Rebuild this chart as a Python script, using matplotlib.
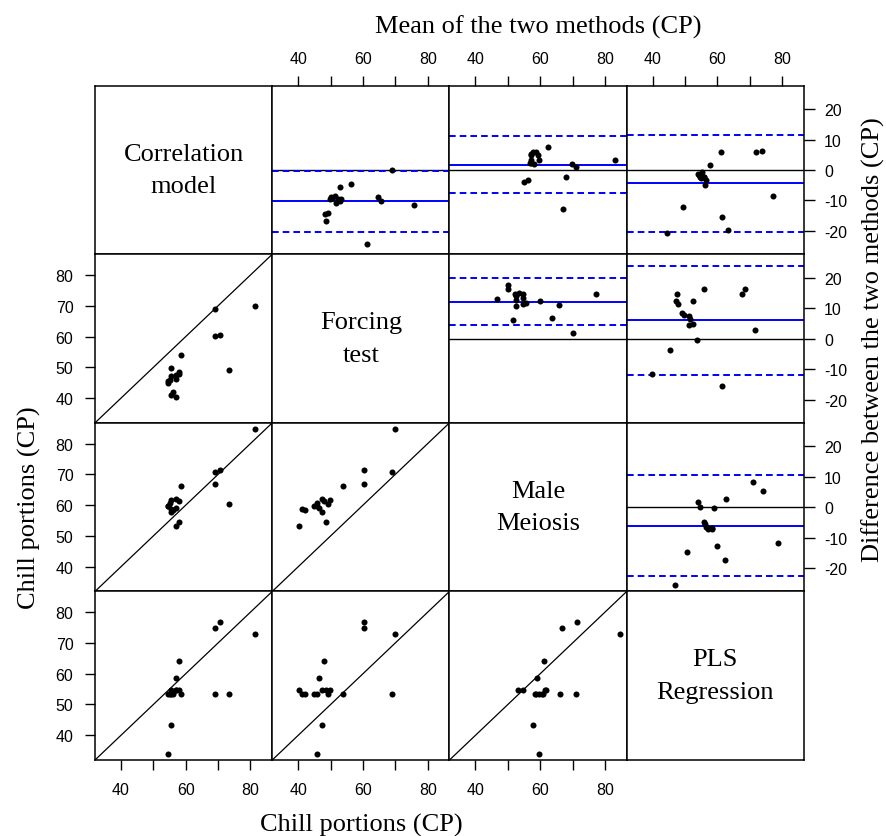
import numpy as np
import matplotlib
matplotlib.use("Agg")
import matplotlib.pyplot as plt

# ---- data: chill portions (CP) estimated by four methods for the same years ----
method_names = ["Correlation\nmodel", "Forcing\ntest", "Male\nMeiosis", "PLS\nRegression"]
correlation = [69.0, 81.5, 69.0, 70.5, 73.3, 58.5, 54.6, 55.6, 58.0, 57.0, 57.0, 58.0, 55.6, 56.1, 55.6, 57.0, 54.6, 55.0]
forcing     = [69.1, 70.0, 60.2, 60.4, 49.1, 53.9, 45.7, 47.2, 47.9, 46.3, 40.3, 48.5, 49.9, 42.0, 41.1, 47.4, 45.0, 45.9]
meiosis     = [70.9, 84.7, 66.8, 71.4, 60.5, 66.2, 59.6, 57.9, 61.2, 59.0, 53.2, 54.6, 61.6, 58.3, 58.8, 61.9, 59.7, 60.8]
pls         = [53.5, 72.9, 74.9, 76.7, 53.5, 53.5, 34.0, 43.3, 64.0, 58.6, 54.8, 54.8, 54.8, 53.5, 53.3, 54.8, 53.3, 53.5]

cp_ticks = [40, 50, 60, 70, 80]
cp_tick_labels = ["40", "", "60", "", "80"]
left_tick_labels = ["40", "50", "60", "70", "80"]
diff_ticks = [-20, -10, 0, 10, 20]
diff_tick_labels = ["-20", "-10", "0", "10", "20"]

xlabel_bottom = "Chill portions (CP)"
ylabel_left = "Chill portions (CP)"
xlabel_top = "Mean of the two methods (CP)"
ylabel_right = "Difference between the two methods (CP)"

data = [np.array(correlation), np.array(forcing), np.array(meiosis), np.array(pls)]

plt.rcParams["lines.scale_dashes"] = False
SANS = ["Liberation Sans", "DejaVu Sans"]
SERIF = ["Liberation Serif", "DejaVu Serif"]

# common scales
allv = np.concatenate(data)
rng = allv.max() - allv.min()
cp_lim = (allv.min() - 0.04 * rng, allv.max() + 0.04 * rng)
maxabs = 0
for i in range(4):
    for j in range(i + 1, 4):
        maxabs = max(maxabs, np.abs(data[j] - data[i]).max())
diff_lim = (-1.08 * maxabs, 1.08 * maxabs)

W, H = 886, 837
fig = plt.figure(figsize=(W / 100, H / 100), dpi=100)
L, R, T, B = 95.0, 804.0, 86.7, 761.0
cw = (R - L) / 4
rh = (B - T) / 4

BLUE = "#0000FF"
tick_kw = dict(direction="out", length=7, width=1.0, labelsize=11.5, colors="black")

for i in range(4):
    for j in range(4):
        ax = fig.add_axes([(L + j * cw) / W, 1 - (T + (i + 1) * rh) / H, cw / W, rh / H])
        for s in ax.spines.values():
            s.set_linewidth(1.1)
            s.set_color("black")
        ax.set_xticks([])
        ax.set_yticks([])
        ax.set_xlim(cp_lim)
        if i == j:
            ax.set_ylim(0, 1)
            ax.text(0.5, 0.5, method_names[i], transform=ax.transAxes, ha="center",
                    va="center", fontsize=19, family=SERIF, linespacing=1.63)
        elif i > j:
            # scatter: x = method j, y = method i
            ax.set_ylim(cp_lim)
            ax.plot(cp_lim, cp_lim, color="black", lw=0.9, zorder=2)
            ax.scatter(data[j], data[i], s=19, color="black", linewidths=0, zorder=3)
        else:
            # Bland-Altman: mean vs difference (method j - method i)
            ax.set_ylim(diff_lim)
            mean = (data[i] + data[j]) / 2
            diff = data[j] - data[i]
            bias = diff.mean()
            sd = diff.std(ddof=1)
            ax.axhline(0, color="black", lw=1.0, zorder=1)
            ax.axhline(bias, color=BLUE, lw=1.4, zorder=2)
            for lim in (bias - 1.96 * sd, bias + 1.96 * sd):
                ax.axhline(lim, color=BLUE, lw=1.4, dashes=(4.8, 2.9), zorder=2)
            ax.scatter(mean, diff, s=19, color="black", linewidths=0, zorder=3)

        # axes ticks on the outer edges
        if i == 0 and j >= 1:
            ax.xaxis.tick_top()
            ax.set_xticks(cp_ticks)
            ax.set_xticklabels(cp_tick_labels, family=SANS)
            ax.tick_params(axis="x", pad=7, **tick_kw)
        if j == 3 and i <= 2:
            ax.yaxis.tick_right()
            ax.set_yticks(diff_ticks)
            ax.set_yticklabels(diff_tick_labels, family=SANS)
            ax.tick_params(axis="y", pad=6.5, **dict(tick_kw, length=8))
        if i == 3 and j <= 2:
            ax.set_xticks(cp_ticks)
            ax.set_xticklabels(cp_tick_labels, family=SANS)
            ax.tick_params(axis="x", pad=9, **tick_kw)
        if j == 0 and i >= 1:
            ax.set_yticks(cp_ticks)
            ax.set_yticklabels(left_tick_labels, family=SANS)
            ax.tick_params(axis="y", pad=8.5, **tick_kw)

# outer axis titles
fig.text((L + R - cw) / 2 / W, 1 - 832 / H, xlabel_bottom, ha="center", va="baseline",
         fontsize=19, family=SERIF)
fig.text((L + cw + R) / 2 / W, 1 - 34 / H, xlabel_top, ha="center", va="baseline",
         fontsize=19, family=SERIF)
fig.text(36 / W, 1 - (T + rh + B) / 2 / H, ylabel_left, ha="center", va="baseline",
         rotation=90, rotation_mode="anchor", fontsize=19, family=SERIF)
fig.text(880 / W, 1 - (T + B - rh) / 2 / H, ylabel_right, ha="center", va="baseline",
         rotation=90, rotation_mode="anchor", fontsize=19, family=SERIF)

fig.savefig("out.png", dpi=100, facecolor="white")
